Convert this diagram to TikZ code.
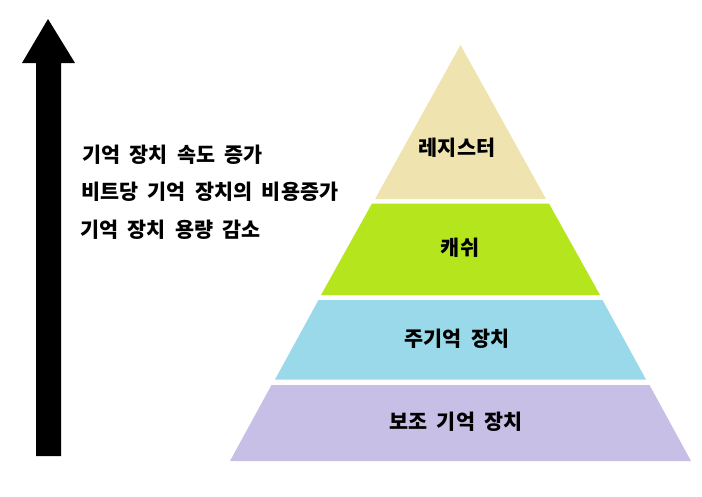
\documentclass[tikz,border=0pt]{standalone}
\usepackage{fontspec}
\setmainfont{Noto Sans CJK KR}[WordSpace=2]
\definecolor{regc}{RGB}{239,228,176}
\definecolor{cachec}{RGB}{181,230,29}
\definecolor{mainc}{RGB}{153,217,234}
\definecolor{auxc}{RGB}{200,191,231}
\begin{document}
\begin{tikzpicture}[x=1pt,y=-1pt,
  lbl/.style={font=\fontsize{20.7}{22}\selectfont\bfseries, text=black, inner sep=0pt},
  side/.style={lbl, anchor=west}]
\useasboundingbox (0,0) rectangle (702,496);
% arrow
\fill[black] (48,19) -- (75,63) -- (61,63) -- (61,456) -- (36,456) -- (36,63) -- (22,63) -- cycle;
% pyramid layers
\fill[regc] (460.5,45) -- (546,199) -- (375,199) -- cycle;
\fill[cachec] (372,203.5) -- (549,203.5) -- (600,295) -- (321,295) -- cycle;
\fill[mainc] (318.5,300) -- (602.5,300) -- (646,379.5) -- (275,379.5) -- cycle;
\fill[auxc] (271.5,385) -- (649.5,385) -- (691,461) -- (230,461) -- cycle;
% labels
\node[lbl] (reg) at (457,148) {레지스터};
\node[lbl] (cache) at (460,248) {캐쉬};
\node[lbl] (main) at (457,339) {주기억 장치};
\node[lbl] (aux) at (456,422) {보조 기억 장치};
\node[side] (t1) at (82,155) {기억 장치 속도 증가};
\node[side] (t2) at (81,192) {비트당 기억 장치의 비용증가};
\node[side] (t3) at (80,230) {기억 장치 용량 감소};
\end{tikzpicture}
\end{document}
